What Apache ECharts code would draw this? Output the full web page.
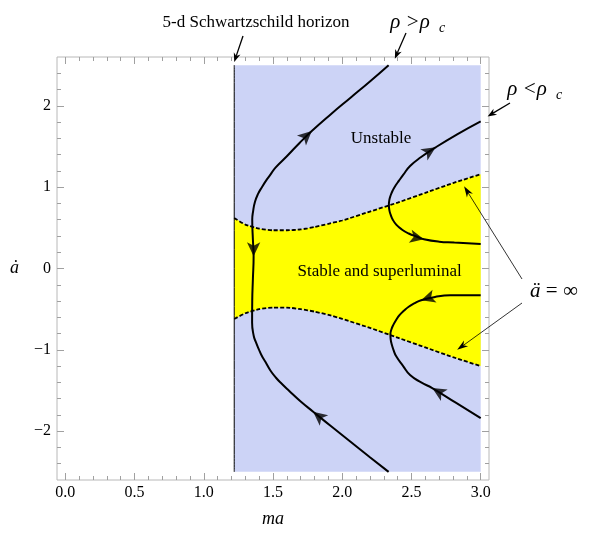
<!DOCTYPE html>
<html>
<head>
<meta charset="utf-8">
<script src="https://cdn.jsdelivr.net/npm/echarts@6/dist/echarts.min.js"></script>
<style>
html, body { margin: 0; padding: 0; background: #fff; }
#chart { width: 592px; height: 533px; }
</style>
</head>
<body>
<div id="chart"></div>
<script>
// tick labels
var xMajor = [0, 0.5, 1, 1.5, 2, 2.5, 3];
var yMajor = [-2, -1, 0, 1, 2];
var xMinor = [];
for (var i = 0; i <= 30; i++) { if (i % 5) xMinor.push(i / 10); }
var yMinor = [];
for (var j = -12; j <= 12; j++) { if (j % 5) yMinor.push(j / 5); }

// unstable region (behind the 5-d horizon at ma = 1.22)
var regionX = [1.22, 3.0];
var regionY = [-2.5, 2.5];

// ä = ∞ boundaries (dashed)
var boundaryX = [1.22, 1.3, 1.4, 1.5, 1.6, 1.7, 1.8, 1.9, 2.0, 2.2, 2.4, 2.6, 2.8, 3.0];
var upperY = [0.62, 0.54, 0.49, 0.47, 0.47, 0.48, 0.51, 0.55, 0.59, 0.70, 0.81, 0.93, 1.05, 1.16];
var lowerY = [-0.62, -0.55, -0.50, -0.48, -0.48, -0.50, -0.53, -0.57, -0.62, -0.73, -0.85, -0.97, -1.09, -1.2];

// trajectories
var leftX = [2.335, 2.2, 2.06, 1.92, 1.79, 1.70, 1.614, 1.565, 1.52, 1.48, 1.446, 1.418, 1.397, 1.375, 1.361, 1.349, 1.35, 1.355, 1.36, 1.355, 1.35, 1.356, 1.37, 1.393, 1.42, 1.45, 1.48, 1.518, 1.60, 1.69, 1.78, 1.92, 2.06, 2.2, 2.335];
var leftY = [-2.5, -2.32, -2.13, -1.94, -1.76, -1.635, -1.5, -1.42, -1.34, -1.25, -1.15, -1.07, -0.99, -0.9, -0.83, -0.665, -0.4, -0.12, 0.15, 0.35, 0.6, 0.7, 0.82, 0.92, 1.0, 1.08, 1.15, 1.24, 1.38, 1.54, 1.69, 1.90, 2.1, 2.3, 2.5];
var urX = [3.0, 2.83, 2.675, 2.57, 2.49, 2.44, 2.41, 2.385, 2.365, 2.35, 2.34, 2.337, 2.34, 2.35, 2.365, 2.39, 2.43, 2.48, 2.54, 2.59, 2.7, 2.81, 3.0];
var urY = [1.81, 1.65, 1.49, 1.37, 1.26, 1.15, 1.08, 1.02, 0.96, 0.90, 0.84, 0.78, 0.72, 0.66, 0.60, 0.54, 0.48, 0.43, 0.39, 0.36, 0.33, 0.32, 0.30];
var lrX = [3.0, 2.78, 2.67, 2.57, 2.52, 2.48, 2.445, 2.415, 2.39, 2.37, 2.355, 2.348, 2.35, 2.357, 2.37, 2.39, 2.44, 2.49, 2.57, 2.65, 2.82, 3.0];
var lrY = [-0.33, -0.33, -0.35, -0.39, -0.43, -0.47, -0.52, -0.57, -0.63, -0.69, -0.75, -0.81, -0.87, -0.93, -1.0, -1.08, -1.2, -1.31, -1.40, -1.47, -1.65, -1.84];

// arrow heads along trajectories: which curve, at which point, which way
var arrowMarks = [
    { curve: 'left', at: 4, dir: 1 },
    { curve: 'left', at: 18, dir: -1 },
    { curve: 'left', at: 30, dir: 1 },
    { curve: 'upperRight', at: 2, dir: -1 },
    { curve: 'upperRight', at: 19, dir: 1 },
    { curve: 'lowerRight', at: 3, dir: 1 },
    { curve: 'lowerRight', at: 19, dir: -1 }
];

var serif = "'Liberation Serif', 'DejaVu Serif', serif";

function pairs(xs, ys) {
    return xs.map(function (x, k) { return [x, ys[k]]; });
}

var curves = {
    left: pairs(leftX, leftY),
    upperRight: pairs(urX, urY),
    lowerRight: pairs(lrX, lrY)
};
var upperEdge = pairs(boundaryX, upperY);
var lowerEdge = pairs(boundaryX, lowerY);
var regionPoly = [[regionX[0], regionY[0]], [regionX[1], regionY[0]], [regionX[1], regionY[1]], [regionX[0], regionY[1]]];
var stablePoly = upperEdge.concat(lowerEdge.slice().reverse());

function fmtY(v) { return v < 0 ? '\u2212' + Math.abs(v) : String(v); }

function axis(kind, position, ticks, len, labels) {
    var a = {
        type: 'value',
        position: position,
        min: kind === 'x' ? -0.06 : -2.6,
        max: kind === 'x' ? 3.06 : 2.6,
        axisLine: { show: false, onZero: false },
        splitLine: { show: false },
        axisTick: { show: true, inside: true, length: len, customValues: ticks, lineStyle: { color: '#a0a0a0', width: 1 } },
        axisLabel: { show: false }
    };
    if (labels) {
        a.axisLabel = {
            show: true,
            customValues: kind === 'x' ? xMajor : yMajor,
            formatter: kind === 'x' ? function (v) { return v.toFixed(1); } : fmtY,
            margin: kind === 'x' ? 5 : 6,
            fontFamily: serif,
            fontSize: 16,
            color: '#000'
        };
        a.name = kind === 'x' ? 'ma' : '\u0227';
        a.nameLocation = 'middle';
        a.nameGap = kind === 'x' ? 30 : 38;
        a.nameRotate = 0;
        a.nameTextStyle = { fontFamily: serif, fontStyle: 'italic', fontSize: 18, color: '#000' };
    }
    return a;
}

function polySeries(poly, color, z) {
    return {
        type: 'custom',
        z: z,
        silent: true,
        data: [[0]],
        renderItem: function (params, api) {
            return {
                type: 'polygon',
                shape: { points: poly.map(function (p) { return api.coord(p); }) },
                style: { fill: color }
            };
        }
    };
}

function lineSeries(data, dashed, width, z) {
    return {
        type: 'line',
        z: z,
        data: data,
        showSymbol: false,
        symbol: 'none',
        smooth: dashed ? 0.2 : 0.5,
        silent: true,
        lineStyle: { color: '#000', width: width, type: dashed ? [4, 2] : 'solid' }
    };
}

var chart = echarts.init(document.getElementById('chart'));

chart.setOption({
    animation: false,
    backgroundColor: '#fff',
    grid: { left: 57, right: 103, top: 57, bottom: 46, show: true, borderColor: '#b8b8b8', borderWidth: 1, backgroundColor: 'transparent' },
    xAxis: [
        axis('x', 'bottom', xMajor, 7, true),
        axis('x', 'bottom', xMinor, 4, false),
        axis('x', 'top', xMajor, 7, false),
        axis('x', 'top', xMinor, 4, false)
    ],
    yAxis: [
        axis('y', 'left', yMajor, 7, true),
        axis('y', 'left', yMinor, 4, false),
        axis('y', 'right', yMajor, 7, false),
        axis('y', 'right', yMinor, 4, false)
    ],
    series: [
        polySeries(regionPoly, '#ccd3f6', 1),
        polySeries(stablePoly, '#ffff00', 2),
        lineSeries(upperEdge, true, 1.8, 3),
        lineSeries(lowerEdge, true, 1.8, 3),
        lineSeries([[regionX[0], regionY[0]], [regionX[0], regionY[1]]], false, 1, 4),
        lineSeries(curves.left, false, 2, 5),
        lineSeries(curves.upperRight, false, 2, 5),
        lineSeries(curves.lowerRight, false, 2, 5)
    ]
});

function px(p) { return chart.convertToPixel({ xAxisIndex: 0, yAxisIndex: 0 }, p); }

// arrows on trajectories, direction from neighbouring points in pixel space
var arrowData = arrowMarks.map(function (m) {
    var pts = curves[m.curve];
    var a = px(pts[m.at - 1]), b = px(pts[m.at + 1]);
    var dx = (b[0] - a[0]) * m.dir, dy = (b[1] - a[1]) * m.dir;
    var ang = Math.atan2(-dy, dx) * 180 / Math.PI - 90;
    return { value: pts[m.at], symbolRotate: ang };
});

function head(tip, tail, len, wid) {
    var dx = tip[0] - tail[0], dy = tip[1] - tail[1];
    var d = Math.sqrt(dx * dx + dy * dy);
    var ux = dx / d, uy = dy / d, nx = -uy, ny = ux;
    var bx = tip[0] - ux * len, by = tip[1] - uy * len;
    return {
        pts: [tip, [bx + nx * wid / 2, by + ny * wid / 2], [tip[0] - ux * len * 0.7, tip[1] - uy * len * 0.7], [bx - nx * wid / 2, by - ny * wid / 2]],
        end: [tip[0] - ux * len * 0.7, tip[1] - uy * len * 0.7]
    };
}

function pointer(tail, tipData, len, wid, lw) {
    var tip = px(tipData);
    var h = head(tip, tail, len, wid);
    return [
        { type: 'line', shape: { x1: tail[0], y1: tail[1], x2: h.end[0], y2: h.end[1] }, style: { stroke: '#000', lineWidth: lw }, z: 20 },
        { type: 'polygon', shape: { points: h.pts }, style: { fill: '#000' }, z: 20 }
    ];
}

function label(text, x, y, size, extra) {
    var s = { text: text, x: x, y: y, fontFamily: serif, fontSize: size, fill: '#000', align: 'center', verticalAlign: 'middle' };
    for (var k in extra) s[k] = extra[k];
    return { type: 'text', style: s, z: 20 };
}

var unst = px([2.28, 1.6]);
var stab = px([2.27, -0.04]);

var graphics = [
    label('5-d Schwartzschild horizon', 256, 23, 17),
    label('\u03c1 >\u03c1', 410, 22, 21, { fontStyle: 'italic' }),
    label('c', 442, 28, 14, { fontStyle: 'italic' }),
    label('\u03c1 <\u03c1', 527, 89, 21, { fontStyle: 'italic' }),
    label('c', 559, 95, 14, { fontStyle: 'italic' }),
    label('{i|\u00e4} = \u221e', 554, 291, 21, { rich: { i: { fontFamily: serif, fontSize: 21, fontStyle: 'italic' } } }),
    label('Unstable', unst[0], unst[1], 17),
    label('Stable and superluminal', stab[0], stab[1], 17)
]
.concat(pointer([243, 36], [1.22, 2.54], 9, 7, 1.3))
.concat(pointer([406, 33], [2.38, 2.58], 9, 7, 1.3))
.concat(pointer([510, 103], [3.05, 1.87], 9, 7, 1.3))
.concat(pointer([522, 279], [2.88, 1.01], 11, 7, 0.8))
.concat(pointer([522, 303], [2.83, -1.0], 11, 7, 0.8));

chart.setOption({
    series: [{}, {}, {}, {}, {}, {}, {}, {},
        {
            type: 'scatter',
            z: 6,
            silent: true,
            symbol: 'arrow',
            symbolSize: [10, 14],
            itemStyle: { color: '#000' },
            data: arrowData
        }
    ],
    graphic: graphics
});

window.onresize = function () { chart.resize(); };
</script>
</body>
</html>
